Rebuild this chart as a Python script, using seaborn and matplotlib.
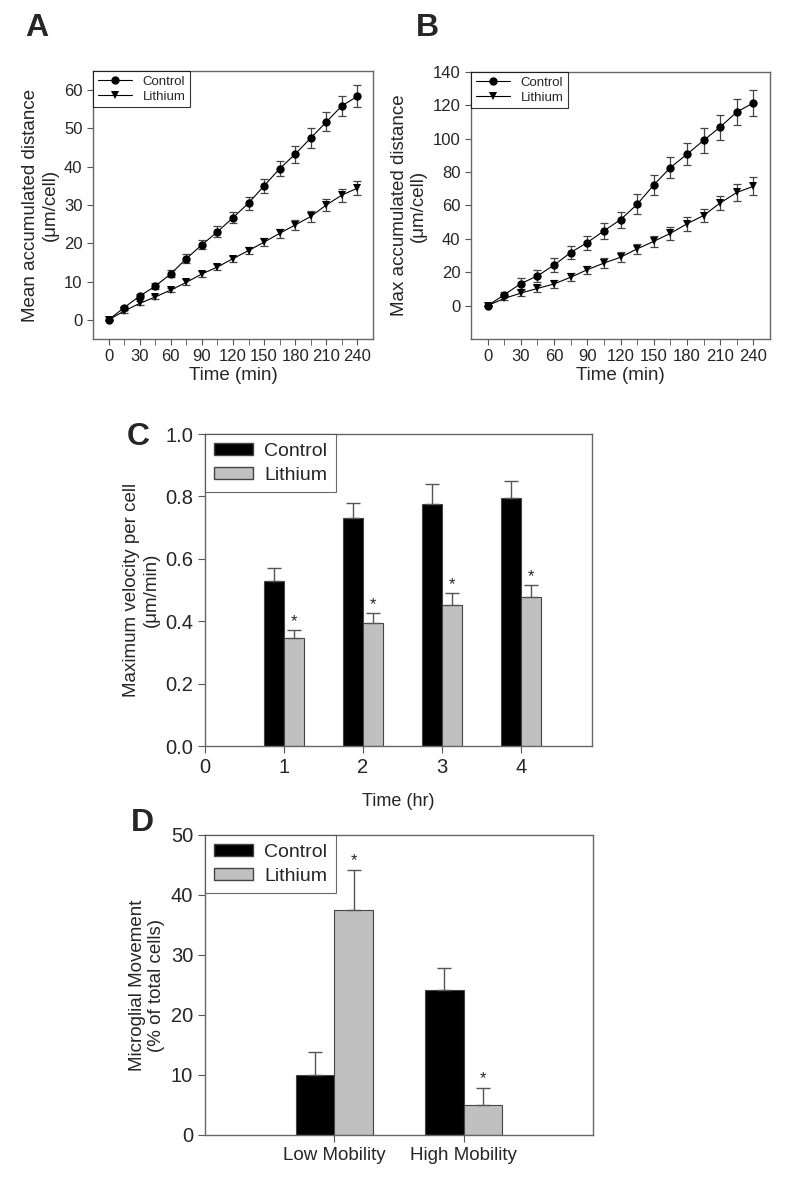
import numpy as np
import pandas as pd
import matplotlib
matplotlib.use("Agg")
import matplotlib.pyplot as plt
import seaborn as sns

# ---- data ----
time_min = [0, 15, 30, 45, 60, 75, 90, 105, 120, 135, 150, 165, 180, 195, 210, 225, 240]

mean_control = [0, 3.2, 6.2, 8.8, 12.0, 16.0, 19.6, 23.0, 26.7, 30.5, 35.0, 39.5, 43.3, 47.5, 51.7, 55.9, 58.4]
mean_control_err = [0, 0.5, 0.6, 0.7, 0.9, 1.1, 1.2, 1.4, 1.5, 1.7, 1.8, 2.0, 2.2, 2.5, 2.5, 2.7, 2.9]
mean_lithium = [0, 2.3, 4.3, 6.0, 7.8, 9.8, 12.0, 13.8, 16.0, 18.1, 20.3, 22.6, 24.8, 27.0, 30.0, 32.6, 34.4]
mean_lithium_err = [0, 0.4, 0.5, 0.5, 0.6, 0.8, 0.8, 0.8, 0.8, 1.0, 1.1, 1.2, 1.3, 1.4, 1.6, 1.7, 1.9]

max_control = [0, 6.5, 13.2, 17.8, 24.3, 31.8, 37.8, 44.8, 51.5, 60.7, 72.3, 82.7, 90.7, 99.0, 107.0, 116.0, 121.5]
max_control_err = [0, 1.5, 3.5, 3.8, 4.2, 4.0, 4.2, 4.6, 4.8, 6.0, 5.8, 6.2, 6.5, 7.5, 7.5, 7.7, 8.0]
max_lithium = [0, 4.3, 7.5, 10.3, 13.0, 17.0, 21.5, 25.5, 29.0, 34.0, 38.5, 43.3, 49.0, 54.0, 61.5, 67.8, 71.5]
max_lithium_err = [0, 1.2, 1.8, 2.0, 2.3, 2.5, 2.5, 3.0, 3.0, 3.2, 3.5, 4.0, 4.0, 4.0, 4.3, 5.2, 5.5]

hours = [1, 2, 3, 4]
vel_control = [0.53, 0.73, 0.775, 0.795]
vel_control_err = [0.04, 0.05, 0.065, 0.055]
vel_lithium = [0.345, 0.395, 0.452, 0.476]
vel_lithium_err = [0.028, 0.03, 0.038, 0.039]

mobility = ["Low Mobility", "High Mobility"]
mob_control = [10.0, 24.2]
mob_control_err = [3.9, 3.6]
mob_lithium = [37.5, 5.0]
mob_lithium_err = [6.7, 2.9]

groups = ["Control", "Lithium"]

sns.set_style("ticks")
plt.rcParams['font.family'] = ['Liberation Sans', 'DejaVu Sans']
plt.rcParams['axes.edgecolor'] = '#555555'
plt.rcParams['axes.linewidth'] = 1.0

fig = plt.figure(figsize=(8, 11.89), dpi=100)
W, H = 800, 1189


def add_ax(left, top, right, bottom):
    return fig.add_axes([left / W, 1 - bottom / H, (right - left) / W, (bottom - top) / H])


def line_panel(ax, ctrl, ctrl_err, li, li_err, ylabel, ylim, yticks):
    df = pd.DataFrame({
        "time": time_min * 2,
        "value": ctrl + li,
        "group": ["Control"] * len(time_min) + ["Lithium"] * len(time_min),
    })
    sns.lineplot(data=df, x="time", y="value", hue="group", style="group",
                 markers={"Control": "o", "Lithium": "v"}, dashes=False,
                 palette={"Control": "black", "Lithium": "black"},
                 markersize=6, linewidth=0.8, markeredgewidth=0, ax=ax)
    ax.errorbar(time_min, ctrl, yerr=ctrl_err, fmt="none", ecolor="#444444",
                elinewidth=0.9, capsize=3, capthick=0.9, zorder=1)
    ax.errorbar(time_min, li, yerr=li_err, fmt="none", ecolor="#444444",
                elinewidth=0.9, capsize=3, capthick=0.9, zorder=1)
    ax.set_xlim(-15, 255)
    ax.set_ylim(*ylim)
    ax.set_xticks(range(0, 241, 30))
    ax.set_xticks(range(0, 241, 15), minor=True)
    ax.set_yticks(yticks)
    ax.tick_params(axis="both", labelsize=12, length=4, color="#555555")
    ax.tick_params(axis="x", which="minor", length=4, color="#555555")
    ax.set_xlabel("Time (min)", fontsize=13.5, labelpad=2)
    ax.set_ylabel(ylabel, fontsize=13.5)
    leg = ax.legend(loc="upper left", borderaxespad=0, fontsize=9.5, frameon=True,
                    fancybox=False, edgecolor="black", handlelength=2.6,
                    borderpad=0.35, labelspacing=0.2)
    leg.get_frame().set_linewidth(0.8)
    leg.set_title(None)


def bar_panel(ax, cats, ctrl, ctrl_err, li, li_err, native, width):
    df = pd.DataFrame({
        "x": list(cats) * 2,
        "value": ctrl + li,
        "group": ["Control"] * len(cats) + ["Lithium"] * len(cats),
    })
    sns.barplot(data=df, x="x", y="value", hue="group", native_scale=native,
                palette={"Control": "black", "Lithium": "#c0c0c0"},
                width=width, errorbar=None, edgecolor="#444444", linewidth=0.8,
                ax=ax, legend=False)
    ebars = ctrl_err + li_err
    vals = ctrl + li
    # bars come out grouped by hue, in category order
    for patch, v, e in zip(ax.patches, vals, ebars):
        xc = patch.get_x() + patch.get_width() / 2
        ax.errorbar([xc], [v], yerr=[[0], [e]], fmt="none", ecolor="#555555",
                    elinewidth=1.0, capsize=5, capthick=1.0)
    return [p.get_x() + p.get_width() / 2 for p in ax.patches]


# ---- Panel A ----
axA = add_ax(93, 71, 373, 339)
line_panel(axA, mean_control, mean_control_err, mean_lithium, mean_lithium_err,
           "Mean accumulated distance\n(\u03bcm/cell)", (-5, 65), range(0, 61, 10))

# ---- Panel B ----
axB = add_ax(471, 72, 770, 339)
line_panel(axB, max_control, max_control_err, max_lithium, max_lithium_err,
           "Max accumulated distance\n(\u03bcm/cell)", (-20, 140), range(0, 141, 20))

# ---- Panel C ----
axC = add_ax(205, 434, 592, 746)
centers = bar_panel(axC, hours, vel_control, vel_control_err, vel_lithium, vel_lithium_err,
                    True, 0.5)
for xc, v, e in zip(centers[len(hours):], vel_lithium, vel_lithium_err):
    axC.text(xc, v + e + 0.003, "*", ha="center", va="bottom", fontsize=12)
axC.set_xlim(0, 4.9)
axC.set_ylim(0, 1.0)
axC.set_xticks([0, 1, 2, 3, 4])
axC.set_xticklabels(["0", "1", "2", "3", "4"])
axC.set_yticks(np.arange(0, 1.01, 0.2))
axC.set_yticklabels([f"{t:.1f}" for t in np.arange(0, 1.01, 0.2)])
axC.tick_params(axis="both", labelsize=14.5, length=5, color="#555555")
axC.set_xlabel("Time (hr)", fontsize=13, labelpad=12)
axC.set_ylabel("Maximum velocity per cell\n(\u03bcm/min)", fontsize=13.5)

# ---- Panel D ----
axD = add_ax(205, 835, 593, 1135)
centers = bar_panel(axD, mobility, mob_control, mob_control_err, mob_lithium, mob_lithium_err,
                    False, 0.6)
for xc, v, e in zip(centers[len(mobility):], mob_lithium, mob_lithium_err):
    axD.text(xc, v + e + 0.2, "*", ha="center", va="bottom", fontsize=12)
axD.set_xlim(-1, 2)
axD.set_ylim(0, 50)
axD.set_yticks(range(0, 51, 10))
axD.tick_params(axis="both", labelsize=14.5, length=5, color="#555555")
axD.tick_params(axis="x", labelsize=13.5)
axD.set_xlabel("")
axD.set_ylabel("Microglial Movement\n(% of total cells)", fontsize=13.5)

for ax in (axC, axD):
    handles = [plt.Rectangle((0, 0), 1, 1, facecolor="black", edgecolor="#444444"),
               plt.Rectangle((0, 0), 1, 1, facecolor="#c0c0c0", edgecolor="#444444")]
    leg = ax.legend(handles, groups, loc="upper left", borderaxespad=0, fontsize=14,
                    frameon=True, fancybox=False, edgecolor="#444444",
                    handlelength=2.0, handleheight=0.55, handletextpad=0.6,
                    borderpad=0.45, labelspacing=0.35)
    leg.get_frame().set_linewidth(0.8)

for ax in (axA, axB, axC, axD):
    for s in ax.spines.values():
        s.set_visible(True)
        s.set_color("#666666")

# panel letters
for lbl, x, y in [("A", 37, 28), ("B", 427, 28), ("C", 138, 437), ("D", 142, 823)]:
    fig.text(x / W, 1 - y / H, lbl, fontsize=23, fontweight="bold", ha="center", va="center")

fig.savefig("out.png", dpi=100)
